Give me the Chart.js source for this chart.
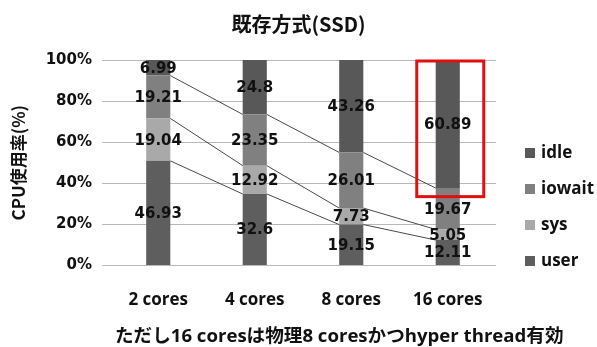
<!DOCTYPE html>
<html>
<head>
<meta charset="utf-8">
<script src="https://cdn.jsdelivr.net/npm/chart.js@4/dist/chart.umd.min.js"></script>
<style>
  html, body { margin: 0; padding: 0; background: #fff; }
  canvas { display: block; }
</style>
</head>
<body>
<canvas id="c" width="597" height="347"></canvas>
<script>
// CPU usage breakdown per core count (raw percentages as measured)
const categories = ['2 cores', '4 cores', '8 cores', '16 cores'];
const userVals   = [46.93, 32.6, 19.15, 12.11];
const sysVals    = [19.04, 12.92, 7.73, 5.05];
const iowaitVals = [19.21, 23.35, 26.01, 19.67];
const idleVals   = [6.99, 24.8, 43.26, 60.89];
const yTickLabels = ['0%', '20%', '40%', '60%', '80%', '100%'];

const series = [
  { name: 'user',   values: userVals,   color: '#5e5e5e' },
  { name: 'sys',    values: sysVals,    color: '#a9a9a9' },
  { name: 'iowait', values: iowaitVals, color: '#808080' },
  { name: 'idle',   values: idleVals,   color: '#585858' }
];

// 100% stacking: each column is scaled by its own total
const totals = categories.map((_, i) => series.reduce((s, d) => s + d.values[i], 0));

const NUM_FONT = 'bold 15px "DejaVu Sans", sans-serif';
const LAT_FONT = '"Open Sans", "Noto Sans CJK JP", sans-serif';
const CJK_FONT = '"Noto Sans CJK JP", sans-serif';

// Series lines joining the segment tops of neighbouring columns
const seriesLines = {
  id: 'seriesLines',
  afterDatasetsDraw(chart) {
    const ctx = chart.ctx;
    ctx.save();
    ctx.strokeStyle = '#4a4a4a';
    ctx.lineWidth = 1;
    for (let d = 0; d < series.length - 1; d++) {
      const els = chart.getDatasetMeta(d).data;
      for (let i = 0; i < els.length - 1; i++) {
        const a = els[i], b = els[i + 1];
        ctx.beginPath();
        ctx.moveTo(a.x + a.width / 2, a.y);
        ctx.lineTo(b.x - b.width / 2, b.y);
        ctx.stroke();
      }
    }
    ctx.restore();
  }
};

// Value labels centred in each segment
const valueLabels = {
  id: 'valueLabels',
  afterDatasetsDraw(chart) {
    const ctx = chart.ctx;
    ctx.save();
    ctx.font = NUM_FONT;
    ctx.fillStyle = '#111';
    ctx.textAlign = 'center';
    ctx.textBaseline = 'middle';
    series.forEach((s, d) => {
      chart.getDatasetMeta(d).data.forEach((el, i) => {
        ctx.fillText(String(s.values[i]), el.x, (el.y + el.base) / 2 + 1);
      });
    });
    ctx.restore();
  }
};

// Red highlight box around the 16-core column, legend and footnote
const extras = {
  id: 'extras',
  afterDraw(chart) {
    const ctx = chart.ctx;
    const x = chart.scales.x, y = chart.scales.y;
    const ca = chart.chartArea;
    ctx.save();

    // highlight box
    const cx = x.getPixelForValue(3);
    ctx.strokeStyle = '#e01010';
    ctx.lineWidth = 3;
    const top = y.getPixelForValue(100), bot = y.getPixelForValue(34);
    ctx.strokeRect(cx - 31, top + 1, 67, bot - top);

    // legend (top-down: idle, iowait, sys, user)
    const items = series.slice().reverse();
    ctx.font = 'bold 17px ' + LAT_FONT;
    ctx.textBaseline = 'middle';
    ctx.textAlign = 'left';
    items.forEach((s, k) => {
      const ly = ca.top + 93 + k * 36;
      ctx.fillStyle = s.color;
      ctx.fillRect(ca.right + 29, ly - 5, 10, 10);
      ctx.fillStyle = '#111';
      ctx.fillText(s.name, ca.right + 45, ly);
    });

    // footnote
    ctx.font = 'bold 18.6px ' + LAT_FONT;
    ctx.fillStyle = '#111';
    ctx.textAlign = 'left';
    ctx.fillText('ただし16 coresは物理8 coresかつhyper thread有効', 115, 337);
    ctx.restore();
  }
};

new Chart(document.getElementById('c'), {
  type: 'bar',
  data: {
    labels: categories,
    datasets: series.map(s => ({
      label: s.name,
      data: s.values.map((v, i) => v / totals[i] * 100),
      backgroundColor: s.color,
      borderWidth: 0,
      categoryPercentage: 1,
      barPercentage: 0.25
    }))
  },
  options: {
    responsive: false,
    animation: false,
    layout: { padding: 0 },
    plugins: {
      legend: { display: false },
      tooltip: { enabled: false },
      title: {
        display: true,
        text: '既存方式(SSD)',
        color: '#111',
        font: { family: CJK_FONT, size: 20, weight: 'bold' },
        padding: { top: 12, bottom: 24 }
      }
    },
    scales: {
      x: {
        stacked: true,
        grid: { display: false, drawTicks: false },
        border: { display: false },
        ticks: {
          color: '#111',
          padding: 24,
          font: { family: LAT_FONT, size: 17, weight: 'bold' }
        },
        afterFit(scale) { scale.height = 81.5; }
      },
      y: {
        stacked: true,
        min: 0,
        max: 100,
        grid: { color: '#b8b8b8', lineWidth: 1, drawTicks: true, tickLength: 8 },
        border: { display: false },
        ticks: {
          stepSize: 20,
          color: '#111',
          padding: 10,
          font: { family: '"DejaVu Sans", sans-serif', size: 15, weight: 'bold' },
          callback: (v) => yTickLabels[Math.round(v / 20)]
        },
        title: {
          display: true,
          text: 'CPU使用率(%)',
          color: '#111',
          font: { family: CJK_FONT, size: 17, weight: 'bold' },
          padding: { top: 8, bottom: 0 }
        },
        afterFit(scale) { scale.width = 110; }
      },
      // empty right-hand axis reserving the legend column
      legendSpace: {
        position: 'right',
        grid: { display: false },
        border: { display: false },
        ticks: { display: false },
        afterFit(scale) { scale.width = 101; }
      }
    }
  },
  plugins: [seriesLines, valueLabels, extras]
});
</script>
</body>
</html>
